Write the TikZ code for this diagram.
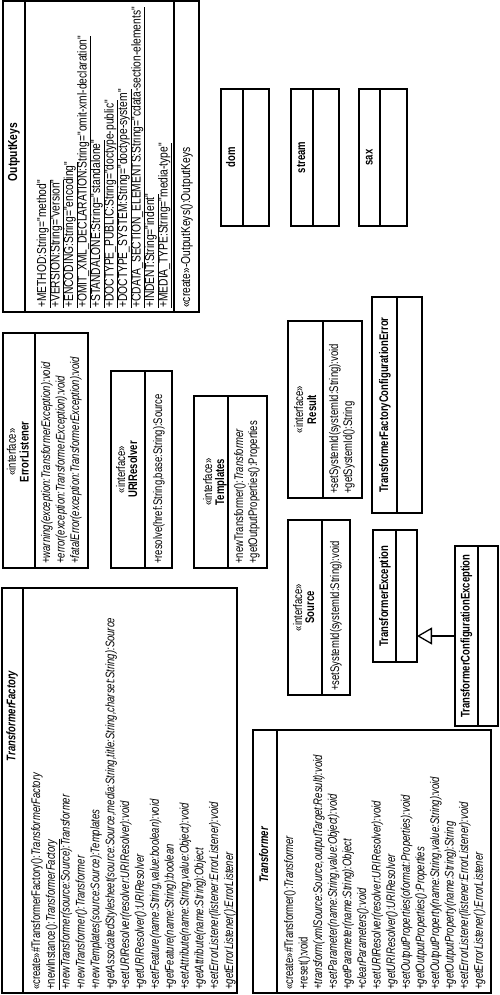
\documentclass[tikz,border=0pt]{standalone}
\usepackage{fontspec}
\setmainfont{Liberation Sans}[FakeStretch=0.76]
\newfontfamily\okfont{Liberation Sans}[FakeStretch=0.79]
\usetikzlibrary{arrows.meta}
\tikzset{
  boxst/.style={draw, line width=1.5pt, inner sep=0pt, outer sep=0pt},
  mtxt/.style={rotate=90, inner sep=0pt, font=\fontsize{12.5}{14}\selectfont, text height=8.6pt, text depth=2.6pt},
  oktxt/.style={mtxt, font=\okfont\fontsize{13}{14}\selectfont},
  sepline/.style={line width=1.5pt},
  gen/.style={line width=1.3pt, -{Triangle[open, length=15pt, width=17pt]}}
}
% class box: name, x1, y1, x2, y2
\newcommand\umlbox[5]{\node[boxst, minimum width={#4pt-#2pt}, minimum height={#5pt-#3pt}] (#1) at ({(#2+#4)/2},{(#3+#5)/2}) {};}
% separator: box name, offset from left edge
\newcommand\umlsep[2]{\draw[sepline] ([xshift=#2pt]#1.north west) -- ([xshift=#2pt]#1.south west);}
% text line starting at the bottom: name, x, y, text
\newcommand\umlln[4]{\node[mtxt, anchor=west] (#1) at (#2,#3) {#4};}
\newcommand\okln[4]{\node[oktxt, anchor=west] (#1) at (#2,#3) {#4};}
% centred text: name, x, y, text
\newcommand\umlct[4]{\node[mtxt, anchor=center] (#1) at (#2,#3) {#4};}
\begin{document}
\begin{tikzpicture}[x=1pt,y=-1pt]
\useasboundingbox (0,0) rectangle (500,995);

% OutputKeys
\umlbox{ok}{3}{1}{199}{312}
\umlsep{ok}{22}
\umlsep{ok}{171}
\node[oktxt, anchor=center] (okt) at (14,152) {\bfseries OutputKeys};
\okln{oka1}{43}{308}{\underline{+METHOD:String="method"}}
\okln{oka2}{56.5}{308}{\underline{+VERSION:String="version"}}
\okln{oka3}{70}{308}{\underline{+ENCODING:String="encoding"}}
\okln{oka4}{83.5}{308}{\underline{+OMIT\_XML\_DECLARATION:String="omit-xml-declaration"}}
\okln{oka5}{97}{308}{\underline{+STANDALONE:String="standalone"}}
\okln{oka6}{110.5}{308}{\underline{+DOCTYPE\_PUBLIC:String="doctype-public"}}
\okln{oka7}{124}{308}{\underline{+DOCTYPE\_SYSTEM:String="doctype-system"}}
\okln{oka8}{137.5}{308}{\underline{+CDATA\_SECTION\_ELEMENTS:String="cdata-section-elements"}}
\okln{oka9}{151}{308}{\underline{+INDENT:String="indent"}}
\okln{oka10}{164.5}{308}{\underline{+MEDIA\_TYPE:String="media-type"}}
\okln{oko1}{187}{308}{«create»-OutputKeys():OutputKeys}

% dom, stream, sax
\umlbox{dom}{221}{89}{269}{226}
\umlsep{dom}{22}
\umlct{domt}{232}{157.5}{\bfseries dom}
\umlbox{stream}{291}{89}{339}{226}
\umlsep{stream}{22}
\umlct{streamt}{302}{157.5}{\bfseries stream}
\umlbox{sax}{359}{89}{407}{226}
\umlsep{sax}{21}
\umlct{saxt}{369.5}{157.5}{\bfseries sax}

% ErrorListener
\umlbox{el}{3}{333}{88}{568}
\umlsep{el}{32}
\umlct{els}{13}{452}{«interface»}
\umlct{elt}{25.5}{452}{\bfseries ErrorListener}
\umlln{elo1}{47}{564}{\itshape +warning(exception:TransformerException):void}
\umlln{elo2}{61.5}{564}{\itshape +error(exception:TransformerException):void}
\umlln{elo3}{76}{564}{\itshape +fatalError(exception:TransformerException):void}

% URIResolver
\umlbox{ur}{111}{371}{172}{568}
\umlsep{ur}{34}
\umlct{urs}{122}{469.5}{«interface»}
\umlct{urt}{134}{469.5}{\bfseries URIResolver}
\umlln{uro1}{159}{564}{+resolve(href:String,base:String):Source}

% Templates
\umlbox{tp}{194}{396}{267}{568}
\umlsep{tp}{34}
\umlct{tps}{209}{482}{«interface»}
\umlct{tpt}{221}{482}{\bfseries Templates}
\umlln{tpo1}{240}{564}{+newTransformer():\textit{Transformer}}
\umlln{tpo2}{254}{564}{+getOutputProperties():Properties}

% Result
\umlbox{rs}{288}{321}{362}{498}
\umlsep{rs}{35}
\umlct{rss}{300}{409.5}{«interface»}
\umlct{rst}{313}{409.5}{\bfseries Result}
\umlln{rso1}{335}{494}{+setSystemId(systemId:String):void}
\umlln{rso2}{349}{494}{+getSystemId():String}

% Source
\umlbox{sc}{288}{520}{350}{695}
\umlsep{sc}{34}
\umlct{scs}{299}{607.5}{«interface»}
\umlct{sct}{311}{607.5}{\bfseries Source}
\umlln{sco1}{336}{691}{+setSystemId(systemId:String):void}

% TransformerFactoryConfigurationError
\umlbox{tfce}{372}{297}{422}{513}
\umlsep{tfce}{25}
\umlct{tfcet}{385}{405}{\bfseries TransformerFactoryConfigurationError}

% TransformerException
\umlbox{te}{373}{530}{417}{662}
\umlsep{te}{23}
\umlct{tet}{385}{596}{\bfseries TransformerException}

% TransformerConfigurationException
\umlbox{tce}{455}{546}{498}{726}
\umlsep{tce}{23}
\umlct{tcet}{466.5}{636}{\bfseries TransformerConfigurationException}

\draw[gen] (tce.west) -- (tce.west -| te.east);

% TransformerFactory
\umlbox{tf}{2}{588}{237}{993}
\umlsep{tf}{21}
\umlct{tft}{12.5}{716}{\bfseries\itshape TransformerFactory}
\umlln{tf1}{37}{990}{«create»\#TransformerFactory():\textit{TransformerFactory}}
\umlln{tf2}{51.85}{990}{\underline{+newInstance():\textit{TransformerFactory}}}
\umlln{tf3}{66.7}{990}{\itshape +newTransformer(source:Source):Transformer}
\umlln{tf4}{81.55}{990}{\itshape +newTransformer():Transformer}
\umlln{tf5}{96.4}{990}{\itshape +newTemplates(source:Source):Templates}
\umlln{tf6}{111.25}{990}{\itshape +getAssociatedStylesheet(source:Source,media:String,title:String,charset:String):Source}
\umlln{tf7}{126.1}{990}{\itshape +setURIResolver(resolver:URIResolver):void}
\umlln{tf8}{140.95}{990}{\itshape +getURIResolver():URIResolver}
\umlln{tf9}{155.8}{990}{\itshape +setFeature(name:String,value:boolean):void}
\umlln{tf10}{170.65}{990}{\itshape +getFeature(name:String):boolean}
\umlln{tf11}{185.5}{990}{\itshape +setAttribute(name:String,value:Object):void}
\umlln{tf12}{200.35}{990}{\itshape +getAttribute(name:String):Object}
\umlln{tf13}{215.2}{990}{\itshape +setErrorListener(listener:ErrorListener):void}
\umlln{tf14}{230.05}{990}{\itshape +getErrorListener():ErrorListener}

% Transformer
\umlbox{tr}{253}{730}{491}{993}
\umlsep{tr}{24}
\umlct{trt}{265}{855}{\bfseries\itshape Transformer}
\umlln{tr1}{290}{990}{«create»\#Transformer():\textit{Transformer}}
\umlln{tr2}{304.6}{990}{+reset():void}
\umlln{tr3}{319.2}{990}{\itshape +transform(xmlSource:Source,outputTarget:Result):void}
\umlln{tr4}{333.8}{990}{\itshape +setParameter(name:String,value:Object):void}
\umlln{tr5}{348.4}{990}{\itshape +getParameter(name:String):Object}
\umlln{tr6}{363}{990}{\itshape +clearParameters():void}
\umlln{tr7}{377.6}{990}{\itshape +setURIResolver(resolver:URIResolver):void}
\umlln{tr8}{392.2}{990}{\itshape +getURIResolver():URIResolver}
\umlln{tr9}{406.8}{990}{\itshape +setOutputProperties(oformat:Properties):void}
\umlln{tr10}{421.4}{990}{\itshape +getOutputProperties():Properties}
\umlln{tr11}{436}{990}{\itshape +setOutputProperty(name:String,value:String):void}
\umlln{tr12}{450.6}{990}{\itshape +getOutputProperty(name:String):String}
\umlln{tr13}{465.2}{990}{\itshape +setErrorListener(listener:ErrorListener):void}
\umlln{tr14}{479.8}{990}{\itshape +getErrorListener():ErrorListener}
\end{tikzpicture}
\end{document}
